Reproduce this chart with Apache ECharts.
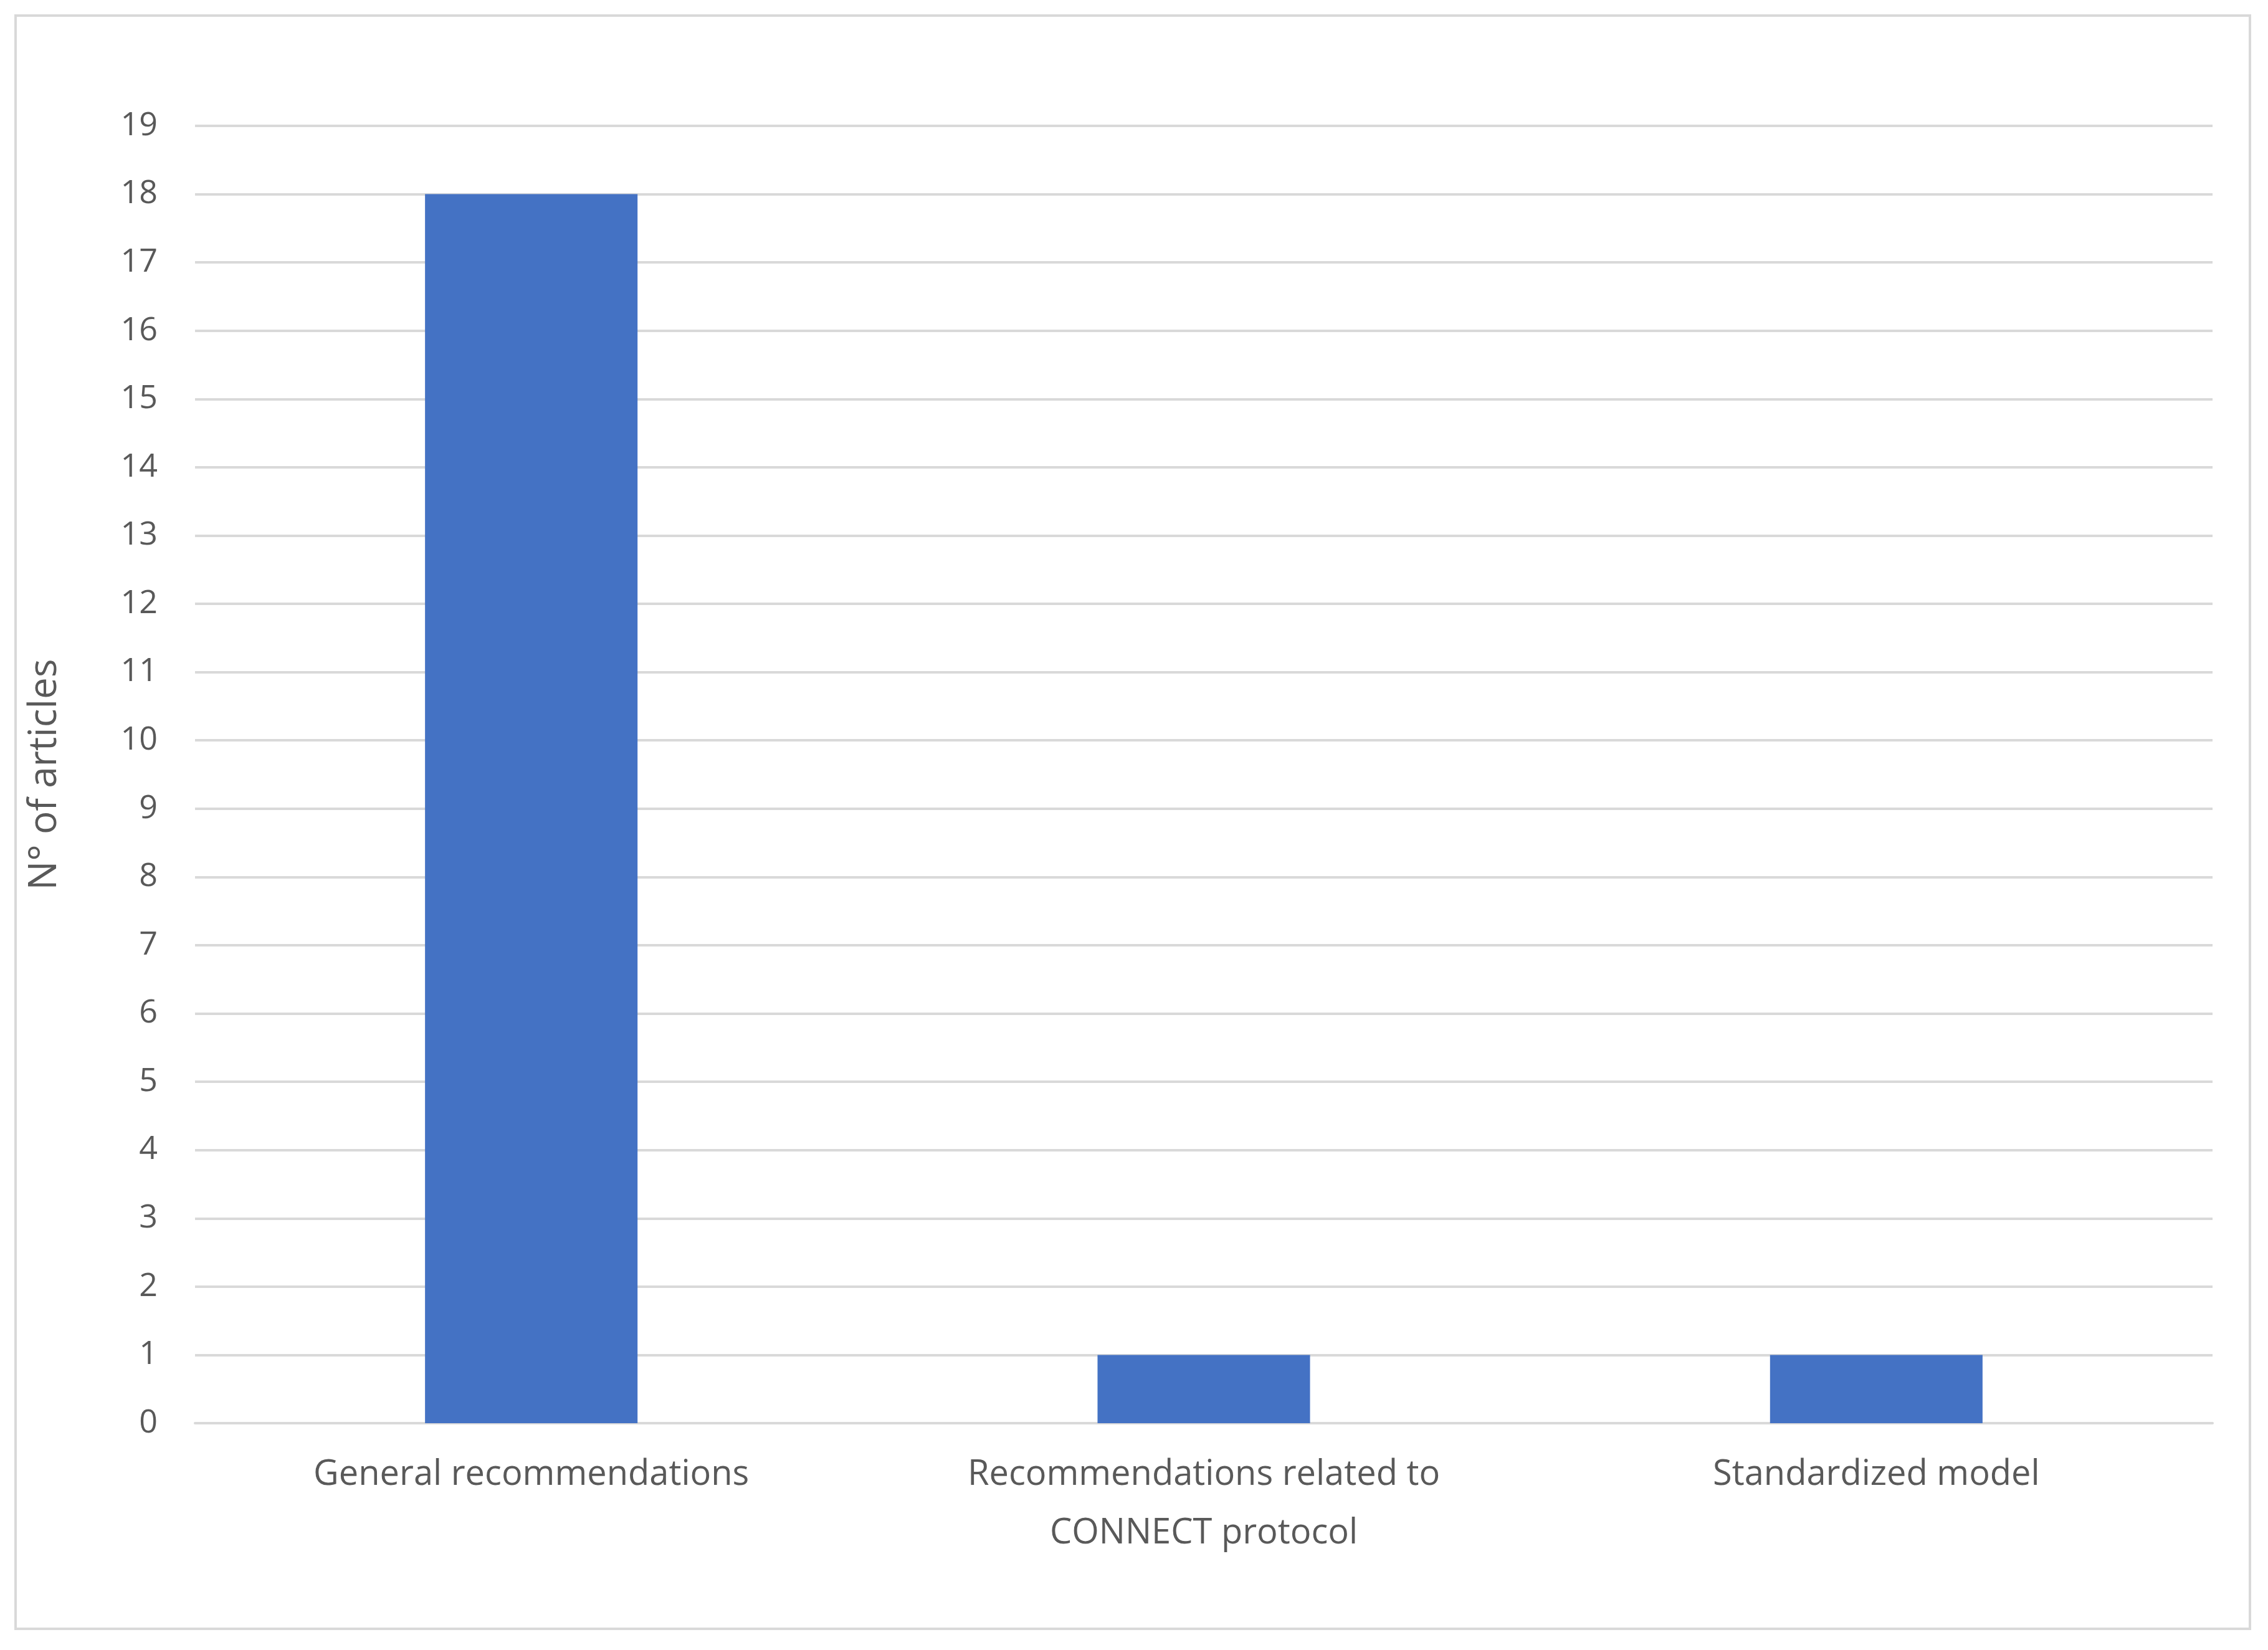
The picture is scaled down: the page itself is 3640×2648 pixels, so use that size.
<!DOCTYPE html>
<html><head><meta charset="utf-8">
<script src="https://cdn.jsdelivr.net/npm/echarts@6/dist/echarts.min.js"></script>
<style>html,body{margin:0;padding:0;background:#fff}#c{width:3640px;height:2648px}
#f{position:absolute;left:23px;top:23px;width:3590px;height:2593px;border:4px solid #d9d9d9;box-sizing:border-box;pointer-events:none}</style>
</head><body><div id="c"></div><div id="f"></div>
<script>
const categories = ['General recommendations', 'Recommendations related to\nCONNECT protocol', 'Standardized model'];
const values = [18, 1, 1];
const yName = 'N° of articles';
const chart = echarts.init(document.getElementById('c'));
chart.setOption({
  animation: false,
  textStyle: {fontFamily: 'Open Sans, Noto Sans, sans-serif'},
  grid: {left: 313, right: 89, top: 202, bottom: 364},
  xAxis: {type: 'category', data: categories,
    axisLine: {lineStyle: {color: '#d9d9d9', width: 4}}, axisTick: {show: false},
    axisLabel: {color: '#595959', fontSize: 56, lineHeight: 94, margin: 36}},
  yAxis: {type: 'value', min: 0, max: 19, interval: 1, name: yName,
    nameLocation: 'middle', nameGap: 210, nameTextStyle: {color: '#595959', fontSize: 62},
    axisLine: {show: false}, axisTick: {show: false},
    axisLabel: {color: '#595959', fontSize: 52, margin: 60},
    splitLine: {lineStyle: {color: '#d9d9d9', width: 4}}},
  series: [{type: 'bar', data: values, barWidth: '31.6%', itemStyle: {color: '#4472c4'}}]
});
</script></body></html>
